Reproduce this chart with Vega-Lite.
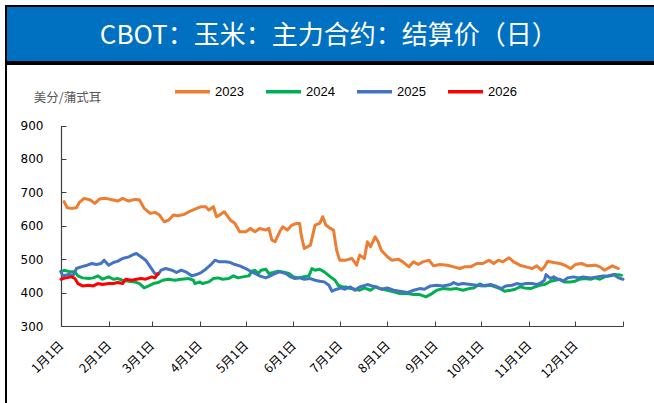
{
  "$schema": "https://vega.github.io/schema/vega-lite/v6.json",
  "padding": {"left": 5, "top": 5, "right": 0, "bottom": 0},
  "background": "white",
  "spacing": 0,
  "config": {
    "view": {"stroke": "black", "strokeWidth": 2},
    "concat": {"spacing": 0}
  },
  "vconcat": [
    {
      "width": 652,
      "height": 56,
      "view": {"fill": "#0070C0", "stroke": "black", "strokeWidth": 2},
      "data": {"values": [{"t": "CBOT：玉米：主力合约：结算价（日）"}]},
      "mark": {"type": "text", "color": "white", "fontSize": 26, "font": "Noto Sans CJK SC", "baseline": "middle", "align": "center"},
      "encoding": {
        "text": {"field": "t"},
        "x": {"datum": 0.495, "type": "quantitative", "scale": {"domain": [0, 1]}, "axis": null},
        "y": {"datum": 0.47, "type": "quantitative", "scale": {"domain": [0, 1]}, "axis": null}
      }
    },
    {
      "width": 652,
      "height": 340,
      "view": {"fill": "white", "stroke": "black", "strokeWidth": 2},
      "data": {"values": [
        {"year":"2023","day":2,"price":672},{"year":"2023","day":4,"price":654},{"year":"2023","day":7,"price":652},{"year":"2023","day":10,"price":654},{"year":"2023","day":12,"price":670},{"year":"2023","day":15,"price":682},{"year":"2023","day":19,"price":677},{"year":"2023","day":22,"price":667},{"year":"2023","day":25,"price":680},{"year":"2023","day":29,"price":682},{"year":"2023","day":34,"price":677},{"year":"2023","day":37,"price":674},{"year":"2023","day":40,"price":682},{"year":"2023","day":44,"price":674},{"year":"2023","day":48,"price":679},{"year":"2023","day":51,"price":677},{"year":"2023","day":54,"price":652},{"year":"2023","day":58,"price":637},{"year":"2023","day":61,"price":640},{"year":"2023","day":64,"price":632},{"year":"2023","day":67,"price":612},{"year":"2023","day":70,"price":617},{"year":"2023","day":73,"price":632},{"year":"2023","day":76,"price":630},{"year":"2023","day":80,"price":634},{"year":"2023","day":84,"price":644},{"year":"2023","day":87,"price":650},{"year":"2023","day":91,"price":657},{"year":"2023","day":94,"price":657},{"year":"2023","day":96,"price":647},{"year":"2023","day":99,"price":657},{"year":"2023","day":101,"price":627},{"year":"2023","day":103,"price":632},{"year":"2023","day":106,"price":642},{"year":"2023","day":110,"price":617},{"year":"2023","day":113,"price":607},{"year":"2023","day":116,"price":582},{"year":"2023","day":120,"price":582},{"year":"2023","day":123,"price":592},{"year":"2023","day":126,"price":582},{"year":"2023","day":129,"price":592},{"year":"2023","day":133,"price":587},{"year":"2023","day":135,"price":592},{"year":"2023","day":137,"price":557},{"year":"2023","day":139,"price":552},{"year":"2023","day":142,"price":582},{"year":"2023","day":144,"price":597},{"year":"2023","day":147,"price":587},{"year":"2023","day":150,"price":602},{"year":"2023","day":153,"price":607},{"year":"2023","day":155,"price":607},{"year":"2023","day":156,"price":572},{"year":"2023","day":158,"price":532},{"year":"2023","day":162,"price":542},{"year":"2023","day":165,"price":602},{"year":"2023","day":168,"price":607},{"year":"2023","day":170,"price":627},{"year":"2023","day":172,"price":602},{"year":"2023","day":175,"price":592},{"year":"2023","day":177,"price":587},{"year":"2023","day":179,"price":527},{"year":"2023","day":181,"price":497},{"year":"2023","day":185,"price":497},{"year":"2023","day":189,"price":502},{"year":"2023","day":192,"price":482},{"year":"2023","day":194,"price":512},{"year":"2023","day":197,"price":502},{"year":"2023","day":199,"price":552},{"year":"2023","day":201,"price":537},{"year":"2023","day":204,"price":567},{"year":"2023","day":206,"price":552},{"year":"2023","day":208,"price":527},{"year":"2023","day":212,"price":507},{"year":"2023","day":215,"price":497},{"year":"2023","day":219,"price":500},{"year":"2023","day":222,"price":492},{"year":"2023","day":226,"price":477},{"year":"2023","day":229,"price":492},{"year":"2023","day":232,"price":484},{"year":"2023","day":235,"price":492},{"year":"2023","day":239,"price":497},{"year":"2023","day":242,"price":480},{"year":"2023","day":246,"price":484},{"year":"2023","day":251,"price":482},{"year":"2023","day":255,"price":477},{"year":"2023","day":259,"price":472},{"year":"2023","day":262,"price":477},{"year":"2023","day":266,"price":477},{"year":"2023","day":270,"price":487},{"year":"2023","day":274,"price":487},{"year":"2023","day":278,"price":497},{"year":"2023","day":281,"price":487},{"year":"2023","day":284,"price":497},{"year":"2023","day":287,"price":492},{"year":"2023","day":291,"price":504},{"year":"2023","day":294,"price":492},{"year":"2023","day":298,"price":482},{"year":"2023","day":302,"price":477},{"year":"2023","day":306,"price":472},{"year":"2023","day":309,"price":480},{"year":"2023","day":312,"price":467},{"year":"2023","day":314,"price":477},{"year":"2023","day":316,"price":494},{"year":"2023","day":320,"price":490},{"year":"2023","day":324,"price":487},{"year":"2023","day":327,"price":482},{"year":"2023","day":331,"price":472},{"year":"2023","day":334,"price":484},{"year":"2023","day":338,"price":487},{"year":"2023","day":342,"price":480},{"year":"2023","day":347,"price":482},{"year":"2023","day":350,"price":477},{"year":"2023","day":353,"price":467},{"year":"2023","day":358,"price":480},{"year":"2023","day":362,"price":472},
        {"year":"2024","day":0,"price":462},{"year":"2024","day":2,"price":467},{"year":"2024","day":6,"price":462},{"year":"2024","day":9,"price":462},{"year":"2024","day":11,"price":450},{"year":"2024","day":14,"price":444},{"year":"2024","day":18,"price":442},{"year":"2024","day":21,"price":444},{"year":"2024","day":24,"price":450},{"year":"2024","day":27,"price":440},{"year":"2024","day":31,"price":447},{"year":"2024","day":34,"price":440},{"year":"2024","day":37,"price":442},{"year":"2024","day":40,"price":437},{"year":"2024","day":44,"price":434},{"year":"2024","day":48,"price":432},{"year":"2024","day":51,"price":427},{"year":"2024","day":54,"price":414},{"year":"2024","day":57,"price":420},{"year":"2024","day":60,"price":427},{"year":"2024","day":63,"price":430},{"year":"2024","day":66,"price":437},{"year":"2024","day":70,"price":440},{"year":"2024","day":74,"price":437},{"year":"2024","day":78,"price":440},{"year":"2024","day":83,"price":442},{"year":"2024","day":86,"price":437},{"year":"2024","day":87,"price":427},{"year":"2024","day":90,"price":432},{"year":"2024","day":92,"price":427},{"year":"2024","day":96,"price":432},{"year":"2024","day":99,"price":442},{"year":"2024","day":102,"price":444},{"year":"2024","day":105,"price":440},{"year":"2024","day":109,"price":442},{"year":"2024","day":112,"price":450},{"year":"2024","day":115,"price":444},{"year":"2024","day":118,"price":447},{"year":"2024","day":122,"price":450},{"year":"2024","day":124,"price":464},{"year":"2024","day":126,"price":467},{"year":"2024","day":128,"price":457},{"year":"2024","day":130,"price":467},{"year":"2024","day":133,"price":470},{"year":"2024","day":135,"price":457},{"year":"2024","day":138,"price":460},{"year":"2024","day":141,"price":464},{"year":"2024","day":144,"price":462},{"year":"2024","day":148,"price":457},{"year":"2024","day":151,"price":447},{"year":"2024","day":154,"price":444},{"year":"2024","day":157,"price":447},{"year":"2024","day":161,"price":450},{"year":"2024","day":163,"price":472},{"year":"2024","day":165,"price":467},{"year":"2024","day":168,"price":470},{"year":"2024","day":171,"price":462},{"year":"2024","day":175,"price":447},{"year":"2024","day":178,"price":437},{"year":"2024","day":180,"price":422},{"year":"2024","day":183,"price":417},{"year":"2024","day":185,"price":417},{"year":"2024","day":188,"price":412},{"year":"2024","day":191,"price":410},{"year":"2024","day":194,"price":407},{"year":"2024","day":197,"price":414},{"year":"2024","day":201,"price":407},{"year":"2024","day":204,"price":417},{"year":"2024","day":207,"price":412},{"year":"2024","day":212,"price":407},{"year":"2024","day":216,"price":402},{"year":"2024","day":220,"price":397},{"year":"2024","day":225,"price":397},{"year":"2024","day":229,"price":394},{"year":"2024","day":233,"price":394},{"year":"2024","day":237,"price":387},{"year":"2024","day":241,"price":397},{"year":"2024","day":244,"price":407},{"year":"2024","day":248,"price":412},{"year":"2024","day":253,"price":410},{"year":"2024","day":257,"price":412},{"year":"2024","day":261,"price":407},{"year":"2024","day":265,"price":412},{"year":"2024","day":268,"price":414},{"year":"2024","day":272,"price":426},{"year":"2024","day":275,"price":420},{"year":"2024","day":279,"price":422},{"year":"2024","day":282,"price":417},{"year":"2024","day":285,"price":412},{"year":"2024","day":288,"price":404},{"year":"2024","day":292,"price":407},{"year":"2024","day":295,"price":410},{"year":"2024","day":298,"price":417},{"year":"2024","day":301,"price":414},{"year":"2024","day":305,"price":412},{"year":"2024","day":308,"price":417},{"year":"2024","day":311,"price":422},{"year":"2024","day":314,"price":424},{"year":"2024","day":318,"price":434},{"year":"2024","day":321,"price":437},{"year":"2024","day":324,"price":440},{"year":"2024","day":327,"price":432},{"year":"2024","day":331,"price":432},{"year":"2024","day":334,"price":434},{"year":"2024","day":337,"price":440},{"year":"2024","day":340,"price":442},{"year":"2024","day":344,"price":440},{"year":"2024","day":347,"price":444},{"year":"2024","day":350,"price":440},{"year":"2024","day":353,"price":447},{"year":"2024","day":357,"price":450},{"year":"2024","day":360,"price":454},{"year":"2024","day":364,"price":452},
        {"year":"2025","day":0,"price":464},{"year":"2025","day":1,"price":450},{"year":"2025","day":5,"price":454},{"year":"2025","day":8,"price":452},{"year":"2025","day":10,"price":472},{"year":"2025","day":13,"price":477},{"year":"2025","day":17,"price":482},{"year":"2025","day":20,"price":487},{"year":"2025","day":23,"price":484},{"year":"2025","day":26,"price":487},{"year":"2025","day":28,"price":497},{"year":"2025","day":31,"price":482},{"year":"2025","day":34,"price":490},{"year":"2025","day":37,"price":494},{"year":"2025","day":40,"price":502},{"year":"2025","day":44,"price":507},{"year":"2025","day":47,"price":514},{"year":"2025","day":49,"price":517},{"year":"2025","day":52,"price":507},{"year":"2025","day":55,"price":497},{"year":"2025","day":58,"price":477},{"year":"2025","day":61,"price":457},{"year":"2025","day":63,"price":454},{"year":"2025","day":65,"price":467},{"year":"2025","day":68,"price":472},{"year":"2025","day":72,"price":467},{"year":"2025","day":75,"price":460},{"year":"2025","day":78,"price":467},{"year":"2025","day":81,"price":462},{"year":"2025","day":85,"price":450},{"year":"2025","day":88,"price":454},{"year":"2025","day":91,"price":460},{"year":"2025","day":94,"price":470},{"year":"2025","day":97,"price":482},{"year":"2025","day":100,"price":497},{"year":"2025","day":103,"price":492},{"year":"2025","day":107,"price":492},{"year":"2025","day":110,"price":490},{"year":"2025","day":113,"price":484},{"year":"2025","day":116,"price":480},{"year":"2025","day":120,"price":472},{"year":"2025","day":123,"price":464},{"year":"2025","day":126,"price":457},{"year":"2025","day":129,"price":450},{"year":"2025","day":133,"price":444},{"year":"2025","day":136,"price":450},{"year":"2025","day":139,"price":457},{"year":"2025","day":142,"price":462},{"year":"2025","day":146,"price":457},{"year":"2025","day":149,"price":447},{"year":"2025","day":152,"price":442},{"year":"2025","day":155,"price":444},{"year":"2025","day":158,"price":440},{"year":"2025","day":162,"price":442},{"year":"2025","day":165,"price":437},{"year":"2025","day":168,"price":434},{"year":"2025","day":171,"price":432},{"year":"2025","day":174,"price":422},{"year":"2025","day":176,"price":404},{"year":"2025","day":179,"price":410},{"year":"2025","day":182,"price":414},{"year":"2025","day":184,"price":410},{"year":"2025","day":188,"price":417},{"year":"2025","day":191,"price":407},{"year":"2025","day":194,"price":417},{"year":"2025","day":199,"price":424},{"year":"2025","day":202,"price":420},{"year":"2025","day":205,"price":417},{"year":"2025","day":208,"price":410},{"year":"2025","day":212,"price":414},{"year":"2025","day":216,"price":407},{"year":"2025","day":220,"price":404},{"year":"2025","day":225,"price":400},{"year":"2025","day":229,"price":407},{"year":"2025","day":233,"price":412},{"year":"2025","day":236,"price":410},{"year":"2025","day":240,"price":420},{"year":"2025","day":244,"price":422},{"year":"2025","day":248,"price":420},{"year":"2025","day":253,"price":424},{"year":"2025","day":255,"price":430},{"year":"2025","day":258,"price":424},{"year":"2025","day":261,"price":427},{"year":"2025","day":266,"price":424},{"year":"2025","day":270,"price":422},{"year":"2025","day":274,"price":420},{"year":"2025","day":276,"price":422},{"year":"2025","day":279,"price":424},{"year":"2025","day":282,"price":420},{"year":"2025","day":286,"price":412},{"year":"2025","day":289,"price":420},{"year":"2025","day":293,"price":422},{"year":"2025","day":296,"price":427},{"year":"2025","day":299,"price":424},{"year":"2025","day":302,"price":427},{"year":"2025","day":306,"price":427},{"year":"2025","day":309,"price":424},{"year":"2025","day":312,"price":430},{"year":"2025","day":314,"price":437},{"year":"2025","day":315,"price":454},{"year":"2025","day":318,"price":442},{"year":"2025","day":320,"price":447},{"year":"2025","day":323,"price":440},{"year":"2025","day":326,"price":434},{"year":"2025","day":329,"price":444},{"year":"2025","day":333,"price":447},{"year":"2025","day":336,"price":444},{"year":"2025","day":339,"price":447},{"year":"2025","day":344,"price":444},{"year":"2025","day":348,"price":447},{"year":"2025","day":352,"price":450},{"year":"2025","day":355,"price":450},{"year":"2025","day":359,"price":454},{"year":"2025","day":362,"price":444},{"year":"2025","day":365,"price":440},
        {"year":"2026","day":0,"price":440},{"year":"2026","day":3,"price":444},{"year":"2026","day":7,"price":447},{"year":"2026","day":9,"price":442},{"year":"2026","day":11,"price":427},{"year":"2026","day":14,"price":420},{"year":"2026","day":18,"price":422},{"year":"2026","day":21,"price":420},{"year":"2026","day":24,"price":427},{"year":"2026","day":27,"price":424},{"year":"2026","day":31,"price":427},{"year":"2026","day":34,"price":427},{"year":"2026","day":37,"price":430},{"year":"2026","day":40,"price":427},{"year":"2026","day":42,"price":440},{"year":"2026","day":46,"price":437},{"year":"2026","day":49,"price":440},{"year":"2026","day":52,"price":442},{"year":"2026","day":55,"price":440},{"year":"2026","day":59,"price":447},{"year":"2026","day":61,"price":444},{"year":"2026","day":63,"price":457}
      ]},
      "mark": {"type": "line", "strokeWidth": 3, "strokeJoin": "round", "strokeCap": "round"},
      "encoding": {
        "x": {
          "field": "day", "type": "quantitative",
          "scale": {"domain": [0, 365], "range": [55, 617], "nice": false, "zero": false},
          "axis": {
            "offset": -78, "title": null, "grid": false,
            "values": [0, 31, 59, 90, 120, 151, 181, 212, 243, 273, 304, 334, 365],
            "labelExpr": "datum.value == 365 ? '' : (indexof([0,31,59,90,120,151,181,212,243,273,304,334], datum.value) + 1) + '月1日'",
            "labelAngle": -45, "labelAlign": "right", "labelBaseline": "middle",
            "labelPadding": 22, "labelFont": "Noto Sans CJK SC", "labelFontSize": 12.5, "labelColor": "#000000",
            "tickSize": -5, "tickColor": "#3f3f3f", "domainColor": "#3f3f3f", "domainWidth": 1.2,
            "labelOverlap": false, "labelFlush": false
          }
        },
        "y": {
          "field": "price", "type": "quantitative",
          "scale": {"domain": [300, 900], "range": [262, 61.5], "nice": false, "zero": false},
          "axis": {
            "offset": -55, "grid": false,
            "values": [300, 400, 500, 600, 700, 800, 900],
            "title": "美分/蒲式耳", "titleAngle": 0, "titleAlign": "center", "titleBaseline": "middle",
            "titleX": 6, "titleY": 33, "titleFont": "Noto Sans CJK SC", "titleFontSize": 12.5, "titleFontWeight": "normal", "titleColor": "#595959",
            "labelFont": "DejaVu Sans", "labelFontSize": 12, "labelColor": "#000000", "labelPadding": 23,
            "tickSize": -5, "tickColor": "#3f3f3f", "domainColor": "#3f3f3f", "domainWidth": 1.2,
            "labelOverlap": false, "labelFlush": false
          }
        },
        "color": {
          "field": "year", "type": "nominal",
          "scale": {"domain": ["2023", "2024", "2025", "2026"], "range": ["#ED7D31", "#00B050", "#4472C4", "#FF0000"]},
          "legend": {
            "title": null, "orient": "none", "direction": "horizontal",
            "legendX": 167, "legendY": 66, "padding": 0,
            "symbolType": "stroke", "symbolSize": 1225, "symbolStrokeWidth": 3.5,
            "labelFont": "Liberation Sans", "labelFontSize": 13, "labelColor": "#000000",
            "labelOffset": 3, "columnPadding": 15
          }
        }
      }
    }
  ]
}
